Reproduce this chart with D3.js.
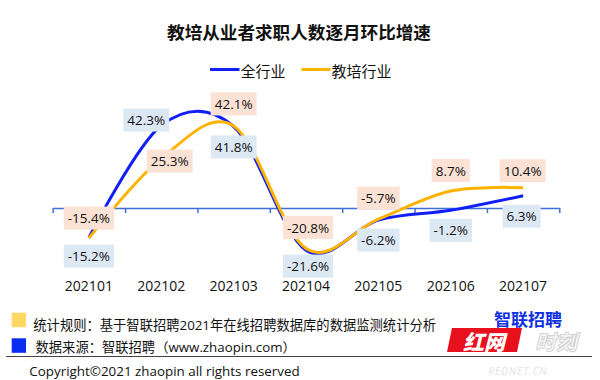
<!DOCTYPE html>
<html><head><meta charset="utf-8">
<script src="https://cdn.jsdelivr.net/npm/d3@7"></script>
<style>
html,body{margin:0;padding:0;background:#fff;}
svg{display:block;}
text{font-family:"Open Sans","Noto Sans CJK SC",sans-serif;}
</style></head>
<body>
<svg id="chart" width="600" height="380"></svg>
<script>
// ---- data ----
const title = "教培从业者求职人数逐月环比增速";
const categories = ["202101","202102","202103","202104","202105","202106","202107"];
const seriesNames = ["全行业","教培行业"];
const allIndustry = [-15.2, 42.3, 41.8, -21.6, -6.2, -1.2, 6.3];
const eduIndustry = [-15.4, 25.3, 42.1, -20.8, -5.7, 8.7, 10.4];
const noteRule = "统计规则：基于智联招聘2021年在线招聘数据库的数据监测统计分析";
const noteSource = "数据来源：智联招聘（www.zhaopin.com）";
const copyright = "Copyright©2021 zhaopin all rights reserved";
const logoText = "智联招聘";

// ---- layout (positions / styles) ----
const colors = ["#0f1ff5", "#ffb300"];
const boxFill = ["#dde8f5", "#fbe2d4"];
const labelOffsets = [
  [[0,18.5],[-15,-5.5],[0,20.5],[2,16],[0,20],[0,20],[-1.5,20.5]],
  [[0,-20],[8.5,2.5],[0,-22],[2,-21],[0,-21],[0,-20.5],[-0.5,-17]]
];

const svg = d3.select("#chart");
const x = d3.scaleBand().domain(categories).range([52.7, 559.3]).padding(0);
const y = d3.scaleLinear().domain([-30, 50]).range([208 + 58.5, 208 - 97.5]);
const cx = c => x(c) + x.bandwidth() / 2;

// title
svg.append("text").attr("x", 299).attr("y", 31.5).attr("text-anchor", "middle")
  .attr("dominant-baseline", "central")
  .style("font-family", "'Noto Sans CJK SC'").style("font-weight", "bold")
  .style("font-size", "17.6px").attr("fill", "#111").text(title);

// legend
const legendItems = [{x1: 210, x2: 239.5, tx: 240.5}, {x1: 301.5, x2: 330.5, tx: 331.5}];
legendItems.forEach((d, i) => {
  svg.append("line").attr("x1", d.x1).attr("x2", d.x2).attr("y1", 69.5).attr("y2", 69.5)
    .attr("stroke", colors[i]).attr("stroke-width", 3);
  svg.append("text").attr("x", d.tx).attr("y", 70).attr("dominant-baseline", "central")
    .style("font-family", "'Noto Sans CJK SC'").style("font-size", "15px").attr("fill", "#111")
    .text(seriesNames[i]);
});

// axis at zero, ticks at band boundaries
const tickScale = d3.scaleLinear().domain([0, categories.length]).range(x.range());
const axisG = svg.append("g").attr("transform", `translate(0,${y(0)})`)
  .call(d3.axisBottom(tickScale).tickValues(d3.range(categories.length + 1))
    .tickFormat("").tickSize(5).tickSizeOuter(0));
axisG.select(".domain").attr("stroke", "#3f6fd6").attr("stroke-width", 1.5);
axisG.selectAll(".tick line").attr("stroke", "#3f6fd6").attr("stroke-width", 1.5);

// category labels
svg.append("g").selectAll("text").data(categories).join("text")
  .attr("x", d => cx(d)).attr("y", 285).attr("text-anchor", "middle")
  .attr("dominant-baseline", "central").style("font-size", "14px").attr("fill", "#111")
  .text(d => d);

// lines
const line = d3.line().x((d, i) => cx(categories[i])).y(d => y(d))
  .curve(d3.curveCardinal.tension(0));
[allIndustry, eduIndustry].forEach((s, i) => {
  svg.append("path").datum(s).attr("d", line).attr("fill", "none")
    .attr("stroke", colors[i]).attr("stroke-width", 3).attr("stroke-linecap", "butt");
});

// data labels
[allIndustry, eduIndustry].forEach((s, si) => {
  s.forEach((v, i) => {
    const px = cx(categories[i]) + labelOffsets[si][i][0];
    const py = y(v) + labelOffsets[si][i][1];
    const g = svg.append("g");
    const t = g.append("text").attr("x", px).attr("y", py).attr("text-anchor", "middle")
      .attr("dominant-baseline", "central").style("font-size", "13.5px").attr("fill", "#111")
      .text(v.toFixed(1) + "%");
    const w = t.node().getComputedTextLength() + 8;
    g.insert("rect", "text").attr("x", px - w / 2).attr("y", py - 11.5)
      .attr("width", w).attr("height", 23).attr("fill", boxFill[si]);
  });
});

// footer notes
svg.append("rect").attr("x", 11.7).attr("y", 312.7).attr("width", 14.3).attr("height", 14.5).attr("fill", "#ffd866");
svg.append("rect").attr("x", 11.7).attr("y", 338.3).attr("width", 14.3).attr("height", 14.5).attr("fill", "#0a2cf0");
svg.append("text").attr("x", 33.3).attr("y", 324.5).attr("dominant-baseline", "central")
  .style("font-size", "13.3px").attr("fill", "#111").text(noteRule);
svg.append("text").attr("x", 35.5).attr("y", 346.5).attr("dominant-baseline", "central")
  .style("font-size", "13.3px").attr("fill", "#111").text(noteSource);
svg.append("line").attr("x1", 6).attr("x2", 592).attr("y1", 356.5).attr("y2", 356.5)
  .attr("stroke", "#444").attr("stroke-width", 1);
svg.append("text").attr("x", 29.3).attr("y", 370.5).attr("dominant-baseline", "central")
  .style("font-size", "13.4px").attr("fill", "#111").text(copyright);

// zhaopin logo text
svg.append("text").attr("x", 494).attr("y", 318).attr("dominant-baseline", "central")
  .style("font-family", "'Noto Sans CJK SC'").style("font-weight", "bold")
  .style("font-size", "17px").attr("fill", "#1030e0").text(logoText);

// rednet watermark (decorative)
const wm = svg.append("g");
wm.append("polygon").attr("points", "452,328 522,328 517,352 447,352").attr("fill", "#e8101c");
wm.append("text").attr("x", 484).attr("y", 341).attr("text-anchor", "middle")
  .attr("dominant-baseline", "central")
  .style("font-family", "'Noto Sans CJK SC'").style("font-weight", "900").style("font-style", "italic")
  .style("font-size", "21px").attr("fill", "#fff").text("红网");
wm.append("text").attr("x", 556).attr("y", 341).attr("text-anchor", "middle")
  .attr("dominant-baseline", "central")
  .style("font-family", "'Noto Sans CJK SC'").style("font-weight", "900").style("font-style", "italic")
  .style("font-size", "21px").attr("fill", "#f4f4f4").attr("stroke", "#d0d0d0").attr("stroke-width", 0.8)
  .text("时刻");
wm.append("text").attr("x", 518).attr("y", 371).attr("text-anchor", "middle")
  .attr("dominant-baseline", "central").style("font-style", "italic")
  .style("font-size", "10px").attr("fill", "#e2e2e2").attr("letter-spacing", "1")
  .text("REDNET.CN");
</script>
</body></html>
